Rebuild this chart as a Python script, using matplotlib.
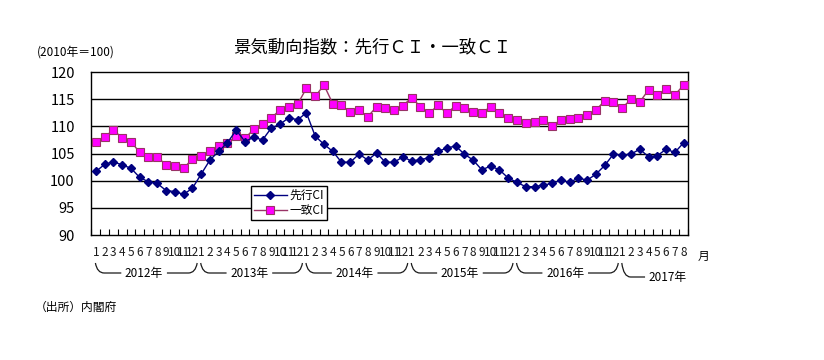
import matplotlib

matplotlib.use("Agg")
import matplotlib.pyplot as plt
import numpy as np
from matplotlib.path import Path
from matplotlib.patches import PathPatch
import matplotlib.transforms as mtransforms

plt.rcParams["font.family"] = ["Noto Sans CJK JP", "DejaVu Sans"]

years = ["2012年", "2013年", "2014年", "2015年", "2016年", "2017年"]
months = [str(m) for m in range(1, 13)] * 5 + [str(m) for m in range(1, 9)]

leading_ci = [
    101.7, 103.0, 103.5, 102.9, 102.3, 100.6, 99.8, 99.5, 98.2, 98.0, 97.5, 98.6,
    101.2, 103.8, 105.4, 107.0, 109.3, 107.2, 108.0, 107.5, 109.7, 110.4, 111.6, 111.2,
    112.5, 108.2, 106.7, 105.4, 103.4, 103.4, 104.9, 103.8, 105.1, 103.4, 103.4, 104.4,
    103.6, 103.9, 104.2, 105.4, 106.0, 106.4, 104.9, 103.8, 102.0, 102.7, 102.0, 100.5,
    99.7, 98.9, 98.9, 99.2, 99.5, 100.1, 99.7, 100.5, 100.1, 101.2, 102.8, 104.9,
    104.7, 104.9, 105.8, 104.4, 104.6, 105.8, 105.2, 107.0,
]
coincident_ci = [
    107.2, 108.1, 109.3, 107.9, 107.2, 105.2, 104.4, 104.4, 102.9, 102.7, 102.3, 104.0,
    104.6, 105.5, 106.4, 107.0, 108.2, 107.8, 109.5, 110.4, 111.6, 113.0, 113.6, 114.1,
    117.0, 115.5, 117.6, 114.2, 113.9, 112.6, 113.0, 111.8, 113.6, 113.4, 113.0, 113.8,
    115.3, 113.6, 112.4, 113.9, 112.4, 113.8, 113.3, 112.7, 112.5, 113.6, 112.5, 111.6,
    111.2, 110.6, 110.8, 111.2, 110.1, 111.2, 111.4, 111.6, 112.0, 113.0, 114.7, 114.5,
    113.4, 115.0, 114.5, 116.7, 115.8, 116.9, 115.8, 117.6,
]

n = len(months)
x = np.arange(n)

fig = plt.figure(figsize=(8.24, 3.6), dpi=100)
ax = fig.add_axes([0.111, 0.347, 0.724, 0.453])

for yv in range(95, 120, 5):
    ax.axhline(yv, color="black", lw=1.0, zorder=1)

ax.plot(x, coincident_ci, color="#993366", lw=1.0, marker="s", markersize=6,
        markerfacecolor="#FF00FF", markeredgecolor="#993366", markeredgewidth=0.8,
        label="一致CI", zorder=3)
ax.plot(x, leading_ci, color="#000080", lw=1.0, marker="D", markersize=4.5,
        markerfacecolor="#000080", markeredgecolor="#000080",
        label="先行CI", zorder=4)

ax.set_xlim(-0.5, n - 0.5)
ax.set_ylim(90, 120)
ax.set_yticks(range(90, 121, 5))
ax.tick_params(axis="y", length=0, pad=12, labelsize=10.5)
ax.set_xticks(np.arange(-0.5, n, 1.0))
ax.set_xticklabels([])
ax.tick_params(axis="x", direction="in", length=4, width=0.8)
for sp in ax.spines.values():
    sp.set_color("black")
    sp.set_linewidth(1.0)

# month labels under each category
trans = mtransforms.blended_transform_factory(ax.transData, fig.transFigure)
for i, m in enumerate(months):
    ax.text(i, 1 - 253 / 360, m, transform=trans, ha="center", va="center",
            fontsize=8.5, color="#1a1a1a")
fig.text(703 / 824, 1 - 256 / 360, "月", ha="center", va="center", fontsize=8.5)

# year brackets
y_top = 1 - 263 / 360
y_mid = 1 - 273 / 360
for k, yr in enumerate(years):
    i0 = k * 12 - 0.05
    i1 = min(k * 12 + 11.55, n - 0.5)
    cx = k * 12 + (5.5 if k < 5 else 5.2)
    gap = 2.6
    ty = y_mid if k < 5 else 1 - 277 / 360
    verts = [(i0, y_top), (i0 + 0.2, ty), (i0 + 1.0, ty), (cx - gap, ty)]
    codes = [Path.MOVETO, Path.CURVE3, Path.CURVE3, Path.LINETO]
    ax.add_patch(PathPatch(Path(verts, codes), transform=trans, fill=False,
                           lw=0.9, color="#1a1a1a", clip_on=False))
    if k < 5:
        verts2 = [(cx + gap, ty), (i1 - 1.0, ty), (i1 - 0.2, ty), (i1, y_top)]
        codes2 = [Path.MOVETO, Path.LINETO, Path.CURVE3, Path.CURVE3]
        ax.add_patch(PathPatch(Path(verts2, codes2), transform=trans, fill=False,
                               lw=0.9, color="#1a1a1a", clip_on=False))
    ax.text(cx, ty, yr, transform=trans, ha="center", va="center", fontsize=8.5)

handles, labels = ax.get_legend_handles_labels()
leg = ax.legend(handles[::-1], labels[::-1], loc="upper left",
                bbox_to_anchor=(250.7 / 824, 1 - 185.7 / 360),
                bbox_transform=fig.transFigure, fontsize=8.5, frameon=True,
                fancybox=False, edgecolor="black", framealpha=1,
                borderpad=0.25, labelspacing=0.2, handlelength=2.8,
                handletextpad=0.2, borderaxespad=0)
leg.get_frame().set_linewidth(1.0)

fig.text(372 / 824, 1 - 47 / 360, "景気動向指数：先行ＣＩ・一致ＣＩ",
         ha="center", va="center", fontsize=12.5)
fig.text(37 / 824, 1 - 52 / 360, "(2010年＝100)", ha="left", va="center",
         fontsize=8.5)
fig.text(35 / 824, 1 - 307 / 360, "（出所）内閣府", ha="left", va="center",
         fontsize=8.5)

fig.savefig("out.png", dpi=100)
